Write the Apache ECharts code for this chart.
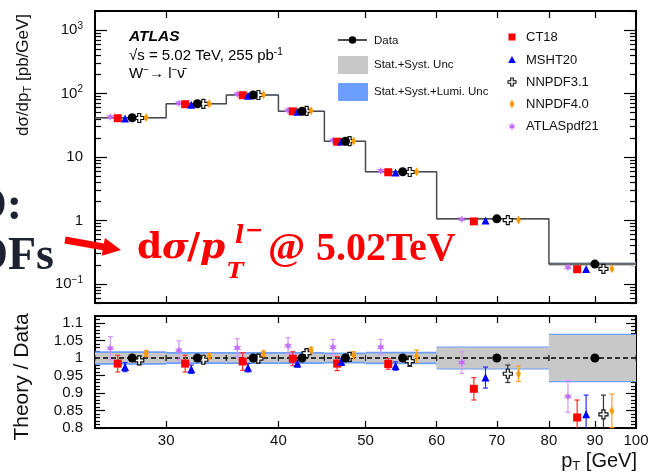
<!DOCTYPE html>
<html>
<head>
<meta charset="utf-8">
<title>W- lepton pT cross section at 5.02 TeV</title>
<script src="https://cdn.jsdelivr.net/npm/echarts@6.0.0/dist/echarts.min.js"></script>
<style>
  html, body { margin: 0; padding: 0; background: #ffffff; }
  #chart { width: 648px; height: 476px; }
</style>
</head>
<body>
<div id="chart"></div>
<script>
// Lepton pT bin edges [GeV]
const binEdges = [25, 30, 35, 40, 45, 50, 60, 80, 100];
// Measured dσ/dpT [pb/GeV]
const dataXsec = [41.5, 69, 95, 52.5, 17.7, 5.85, 1.06, 0.205];
// Relative uncertainties of the measurement
const uncStatSyst = [0.014, 0.012, 0.012, 0.012, 0.011, 0.013, 0.030, 0.066];
const uncStatSystLumi = [0.019, 0.017, 0.017, 0.017, 0.016, 0.018, 0.033, 0.069];

// Theory / Data ratios with PDF uncertainties
const ratioATLASpdf21 = [1.028, 1.022, 1.029, 1.035, 1.031, 1.031, 0.987, 0.890];
const errATLASpdf21   = [0.033, 0.027, 0.026, 0.023, 0.022, 0.022, 0.031, 0.045];
const ratioCT18       = [0.984, 0.984, 0.990, 0.998, 0.984, 0.983, 0.912, 0.830];
const errCT18         = [0.024, 0.024, 0.025, 0.020, 0.020, 0.015, 0.032, 0.050];
const ratioMSHT20     = [0.974, 0.968, 0.972, 0.984, 0.989, 0.977, 0.944, 0.839];
const errMSHT20       = [0.013, 0.012, 0.012, 0.010, 0.010, 0.012, 0.030, 0.055];
const ratioNNPDF31    = [0.993, 0.995, 0.998, 1.014, 1.003, 0.991, 0.955, 0.839];
const errNNPDF31      = [0.012, 0.010, 0.012, 0.010, 0.012, 0.015, 0.025, 0.055];
const ratioNNPDF40    = [1.013, 1.005, 1.012, 1.022, 1.008, 1.005, 0.955, 0.849];
const errNNPDF40      = [0.008, 0.008, 0.008, 0.008, 0.010, 0.018, 0.022, 0.048];

// Axis tick labels
const xTickValues = [30, 40, 50, 60, 70, 80, 90, 100];
const xsecTickValues = [0.1, 1, 10, 100, 1000];
const ratioTickValues = [0.8, 0.85, 0.9, 0.95, 1, 1.05, 1.1];

const SANS = '"Liberation Sans", Arial, Helvetica, sans-serif';
const SERIF = '"Liberation Serif", "Times New Roman", serif';
const MATH = '"DejaVu Serif", serif';

// ---- marker shapes ----
function starPoints(points, rOut, rIn, cx, cy) {
  const pts = [];
  for (let i = 0; i < 2 * points; i++) {
    const r = i % 2 ? rIn : rOut;
    const a = Math.PI * i / points - Math.PI / 2;
    pts.push([cx + r * Math.cos(a), cy + r * Math.sin(a)]);
  }
  return pts;
}
const STAR = 'path://' + starPoints(6, 10, 4.5, 10, 10)
  .map((p, i) => (i ? 'L' : 'M') + p[0].toFixed(2) + ',' + p[1].toFixed(2)).join('') + 'Z';
const OPEN_CROSS = 'path://M3,0H6V3H9V6H6V9H3V6H0V3H3Z';

// Horizontal shift of each prediction inside a bin, as a fraction of the bin width
const models = [
  { name: 'ATLASpdf21', ratio: ratioATLASpdf21, err: errATLASpdf21, shift: -0.3,
    symbol: STAR, size: 8, fill: '#c46cff', stroke: null, bar: '#d493ff' },
  { name: 'CT18', ratio: ratioCT18, err: errCT18, shift: -0.2,
    symbol: 'rect', size: 8, fill: '#ff0000', stroke: null, bar: '#ff2a2a' },
  { name: 'MSHT20', ratio: ratioMSHT20, err: errMSHT20, shift: -0.1,
    symbol: 'triangle', size: 8, fill: '#0000ff', stroke: null, bar: '#2a2aff' },
  { name: 'NNPDF3.1', ratio: ratioNNPDF31, err: errNNPDF31, shift: 0.1,
    symbol: OPEN_CROSS, size: 9, fill: '#ffffff', stroke: '#111111', bar: '#333333' },
  { name: 'NNPDF4.0', ratio: ratioNNPDF40, err: errNNPDF40, shift: 0.2,
    symbol: 'diamond', size: [5, 9], fill: '#ff9a00', stroke: null, bar: '#ffa31a' }
];

const nBins = dataXsec.length;
const binCenter = i => (binEdges[i] + binEdges[i + 1]) / 2;
const binWidth = i => binEdges[i + 1] - binEdges[i];
const shifted = (i, s) => binCenter(i) + s * binWidth(i);

// ---- custom renderers ----
function bandRenderer(fill) {
  return function (params, api) {
    const cs = params.coordSys;
    const p0 = api.coord([api.value(0), api.value(3)]);
    const p1 = api.coord([api.value(1), api.value(2)]);
    const y0 = Math.max(p0[1], cs.y), y1 = Math.min(p1[1], cs.y + cs.height);
    return { type: 'rect', shape: { x: p0[0], y: y0, width: p1[0] - p0[0], height: y1 - y0 },
             style: { fill: fill } };
  };
}
function errorBarRenderer(color) {
  return function (params, api) {
    const cs = params.coordSys;
    const x = api.value(0), v = api.value(1), e = api.value(2);
    const top = api.coord([x, v + e]);
    const bot = api.coord([x, v - e]);
    const yMin = cs.y, yMax = cs.y + cs.height;
    const ya = Math.max(top[1], yMin), yb = Math.min(bot[1], yMax);
    const st = { stroke: color, lineWidth: 1.2 };
    const kids = [{ type: 'line', shape: { x1: top[0], y1: ya, x2: top[0], y2: yb }, style: st }];
    if (top[1] >= yMin) kids.push({ type: 'line', shape: { x1: top[0] - 2.5, y1: top[1], x2: top[0] + 2.5, y2: top[1] }, style: st });
    if (bot[1] <= yMax) kids.push({ type: 'line', shape: { x1: bot[0] - 2.5, y1: bot[1], x2: bot[0] + 2.5, y2: bot[1] }, style: st });
    return { type: 'group', children: kids };
  };
}
function binEdgeTickRenderer(params, api) {
  const a = api.coord([api.value(0), 1]);
  const b = api.coord([api.value(1), 1]);
  const st = { stroke: '#222', lineWidth: 1 };
  return { type: 'group', children: [
    { type: 'line', shape: { x1: a[0], y1: a[1] - 3, x2: a[0], y2: a[1] + 3 }, style: st },
    { type: 'line', shape: { x1: b[0], y1: b[1] - 3, x2: b[0], y2: b[1] + 3 }, style: st }
  ] };
}

// ---- series data ----
const upperBand = (unc) => dataXsec.map((v, i) => [binEdges[i], binEdges[i + 1], v * (1 - unc[i]), v * (1 + unc[i])]);
const lowerBand = (unc) => unc.map((u, i) => [binEdges[i], binEdges[i + 1], 1 - u, 1 + u]);
const stepData = dataXsec.map((v, i) => [binEdges[i], v]).concat([[binEdges[nBins], dataXsec[nBins - 1]]]);

// Minor tick positions
const xsecMinorTicks = [];
for (let p = -2; p <= 3; p++) for (let m = 2; m <= 9; m++) xsecMinorTicks.push(+(m * Math.pow(10, p)).toPrecision(3));
const ratioMinorTicks = [];
for (let k = 80; k <= 112; k++) if (k % 5 !== 0) ratioMinorTicks.push(k / 100);

const series = [];
// Upper panel
series.push({ type: 'custom', xAxisIndex: 0, yAxisIndex: 0, z: 1, silent: true,
  renderItem: bandRenderer('#6c9eff'), data: upperBand(uncStatSystLumi), encode: { x: [0, 1], y: [2, 3] } });
series.push({ type: 'custom', xAxisIndex: 0, yAxisIndex: 0, z: 1, silent: true,
  renderItem: bandRenderer('#c8c8c8'), data: upperBand(uncStatSyst), encode: { x: [0, 1], y: [2, 3] } });
series.push({ type: 'line', xAxisIndex: 0, yAxisIndex: 0, z: 2, step: 'end', symbol: 'none',
  lineStyle: { color: '#4a4a4a', width: 1.5 }, data: stepData });
models.forEach(m => {
  series.push({ type: 'scatter', name: m.name, xAxisIndex: 0, yAxisIndex: 0, z: 4,
    symbol: m.symbol, symbolSize: m.size,
    itemStyle: { color: m.fill, borderColor: m.stroke || m.fill, borderWidth: m.stroke ? 1.2 : 0, opacity: 1 },
    data: dataXsec.map((v, i) => [shifted(i, m.shift), v * m.ratio[i]]) });
});
series.push({ type: 'scatter', name: 'Data', xAxisIndex: 0, yAxisIndex: 0, z: 5,
  symbol: 'circle', symbolSize: 9, itemStyle: { color: '#000', opacity: 1 },
  data: dataXsec.map((v, i) => [binCenter(i), v]) });

// Lower panel
series.push({ type: 'custom', xAxisIndex: 1, yAxisIndex: 4, z: 1, silent: true,
  renderItem: bandRenderer('#6c9eff'), data: lowerBand(uncStatSystLumi), encode: { x: [0, 1], y: [2, 3] } });
series.push({ type: 'custom', xAxisIndex: 1, yAxisIndex: 4, z: 1, silent: true,
  renderItem: bandRenderer('#c8c8c8'), data: lowerBand(uncStatSyst), encode: { x: [0, 1], y: [2, 3] } });
series.push({ type: 'line', xAxisIndex: 1, yAxisIndex: 4, z: 2, symbol: 'none',
  lineStyle: { color: '#000', width: 1.3, type: [5, 3] }, data: [[binEdges[0], 1], [binEdges[nBins], 1]] });
series.push({ type: 'custom', xAxisIndex: 1, yAxisIndex: 4, z: 2, silent: true,
  renderItem: binEdgeTickRenderer, data: dataXsec.map((v, i) => [binEdges[i], binEdges[i + 1]]), encode: { x: [0, 1] } });
models.forEach(m => {
  series.push({ type: 'custom', xAxisIndex: 1, yAxisIndex: 4, z: 3, silent: true,
    renderItem: errorBarRenderer(m.bar),
    data: m.ratio.map((r, i) => [shifted(i, m.shift), r, m.err[i]]), encode: { x: 0, y: 1 } });
  series.push({ type: 'scatter', xAxisIndex: 1, yAxisIndex: 4, z: 4,
    symbol: m.symbol, symbolSize: m.size,
    itemStyle: { color: m.fill, borderColor: m.stroke || m.fill, borderWidth: m.stroke ? 1.2 : 0, opacity: 1 },
    data: m.ratio.map((r, i) => [shifted(i, m.shift), r]) });
});
series.push({ type: 'scatter', xAxisIndex: 1, yAxisIndex: 4, z: 5,
  symbol: 'circle', symbolSize: 9, itemStyle: { color: '#000', opacity: 1 },
  data: dataXsec.map((v, i) => [binCenter(i), 1]) });

// ---- axes ----
const frameLine = { show: true, onZero: false, lineStyle: { color: '#000', width: 2 } };
function xAx(grid, pos, labels) {
  return {
    type: 'log', logBase: 10, gridIndex: grid, position: pos, min: 25, max: 100,
    axisLine: frameLine, splitLine: { show: false },
    axisTick: { show: true, inside: true, length: 7, customValues: xTickValues, lineStyle: { color: '#000', width: 1.2 } },
    axisLabel: labels ? { show: true, customValues: xTickValues, margin: 5, fontFamily: SANS, fontSize: 15, color: '#111',
                          showMinLabel: true, showMaxLabel: true, hideOverlap: false }
                      : { show: false }
  };
}
const supRich = {
  b: { fontFamily: SANS, fontSize: 15, lineHeight: 18, color: '#111' },
  s: { fontFamily: SANS, fontSize: 10, lineHeight: 10, verticalAlign: 'top', color: '#111' }
};
function xsecLabel(v) {
  const p = Math.round(Math.log10(v));
  if (p === 0) return '{b|1}';
  if (p === 1) return '{b|10}';
  return '{b|10}{s|' + (p < 0 ? '\u2212' + (-p) : p) + '}';
}
function yLogAx(pos, ticks, len, labels) {
  return {
    type: 'log', logBase: 10, gridIndex: 0, position: pos, min: 0.05, max: 2000,
    axisLine: frameLine, splitLine: { show: false },
    axisTick: { show: true, inside: true, length: len, customValues: ticks, lineStyle: { color: '#000', width: 1.2 } },
    axisLabel: labels ? { show: true, customValues: ticks, margin: 12, formatter: xsecLabel, rich: supRich }
                      : { show: false }
  };
}
function yRatioAx(pos, ticks, len, labels) {
  return {
    type: 'value', gridIndex: 1, position: pos, min: 0.8, max: 1.12,
    axisLine: frameLine, splitLine: { show: false },
    axisTick: { show: true, inside: true, length: len, customValues: ticks, lineStyle: { color: '#000', width: 1.2 } },
    axisLabel: labels ? { show: true, customValues: ticks, margin: 12, fontFamily: SANS, fontSize: 15, color: '#111',
                          formatter: v => String(+v.toFixed(2)) }
                      : { show: false }
  };
}

// ---- legend and text overlays ----
const legendText = (t, x, y, size) => ({ type: 'text', x: x, y: y, z: 20,
  style: { text: t, fontFamily: SANS, fontSize: size, fill: '#111', verticalAlign: 'middle', align: 'left' } });
const lx = 512;
const legendRows = [37, 60, 82, 104, 126.5];
const crossPts = (cx, cy) => [[-1.3, -4], [1.3, -4], [1.3, -1.3], [4, -1.3], [4, 1.3], [1.3, 1.3], [1.3, 4], [-1.3, 4],
  [-1.3, 1.3], [-4, 1.3], [-4, -1.3], [-1.3, -1.3]].map(p => [cx + p[0], cy + p[1]]);
const redText = (t, x, y, size, italic, family) => ({ type: 'text', x: x, y: y, z: 30,
  style: { text: t, fontFamily: family || MATH, fontSize: size, fontWeight: 'bold', fontStyle: italic ? 'italic' : 'normal',
           fill: '#ff0000', verticalAlign: 'middle', align: 'left' } });
const graphic = [
  // Left legend column
  { type: 'line', z: 20, shape: { x1: 338, y1: 40, x2: 367, y2: 40 }, style: { stroke: '#000', lineWidth: 1.4 } },
  { type: 'circle', z: 20, shape: { cx: 352.5, cy: 40, r: 3.8 }, style: { fill: '#000' } },
  legendText('Data', 374, 40.5, 11.5),
  { type: 'rect', z: 20, shape: { x: 338, y: 56, width: 30, height: 18 }, style: { fill: '#c8c8c8' } },
  legendText('Stat.+Syst. Unc', 374, 65, 11.5),
  { type: 'rect', z: 20, shape: { x: 338, y: 83, width: 30, height: 18 }, style: { fill: '#6c9eff' } },
  legendText('Stat.+Syst.+Lumi. Unc', 374, 92, 11.5),
  // Right legend column
  { type: 'rect', z: 20, shape: { x: lx - 3.5, y: legendRows[0] - 3.5, width: 7, height: 7 }, style: { fill: '#ff0000' } },
  legendText('CT18', 526, legendRows[0], 13),
  { type: 'polygon', z: 20, shape: { points: [[lx, legendRows[1] - 4], [lx + 3.8, legendRows[1] + 3], [lx - 3.8, legendRows[1] + 3]] }, style: { fill: '#0000ff' } },
  legendText('MSHT20', 526, legendRows[1], 13),
  { type: 'polygon', z: 20, shape: { points: crossPts(lx, legendRows[2]) }, style: { fill: '#fff', stroke: '#111', lineWidth: 1.1 } },
  legendText('NNPDF3.1', 526, legendRows[2], 13),
  { type: 'polygon', z: 20, shape: { points: [[lx, legendRows[3] - 4.5], [lx + 2.5, legendRows[3]], [lx, legendRows[3] + 4.5], [lx - 2.5, legendRows[3]]] }, style: { fill: '#ff9a00' } },
  legendText('NNPDF4.0', 526, legendRows[3], 13),
  { type: 'polygon', z: 20, shape: { points: starPoints(6, 4, 1.8, lx, legendRows[4]) }, style: { fill: '#c46cff' } },
  legendText('ATLASpdf21', 526, legendRows[4], 13),

  // Experiment label
  { type: 'text', x: 129, y: 36.5, z: 20, style: { text: 'ATLAS', fontFamily: SANS, fontSize: 15.5, fontWeight: 'bold', fontStyle: 'italic', fill: '#000', verticalAlign: 'middle' } },
  { type: 'text', x: 129, y: 56, z: 20, style: { text: '{b|\u221As = 5.02 TeV, 255 pb}{s|-1}', verticalAlign: 'middle',
    rich: { b: { fontFamily: SANS, fontSize: 15, lineHeight: 18, fill: '#000' }, s: { fontFamily: SANS, fontSize: 10, lineHeight: 10, verticalAlign: 'top', fill: '#000' } } } },
  { type: 'text', x: 129, y: 74, z: 20, style: { text: '{b|W}{s|\u2212}{b|\u2192 l}{s|\u2212}{b|\u03BD\u0304}', verticalAlign: 'middle',
    rich: { b: { fontFamily: SANS, fontSize: 15, lineHeight: 18, fill: '#000' }, s: { fontFamily: SANS, fontSize: 10, lineHeight: 10, verticalAlign: 'top', fill: '#000' } } } },

  // Axis titles
  { type: 'text', x: 23, y: 75, rotation: Math.PI / 2, z: 20, style: { text: '{b|d\u03C3/dp}{t|T}{b| [pb/GeV]}', align: 'center', verticalAlign: 'middle',
    rich: { b: { fontFamily: SANS, fontSize: 17, lineHeight: 20, fill: '#111' }, t: { fontFamily: SANS, fontSize: 11, lineHeight: 11, verticalAlign: 'bottom', fill: '#111' } } } },
  { type: 'text', x: 22, y: 377, rotation: Math.PI / 2, z: 20, style: { text: 'Theory / Data', fontFamily: SANS, fontSize: 21, fill: '#111', align: 'center', verticalAlign: 'middle' } },
  { type: 'text', x: 637, y: 461, z: 20, style: { text: '{b|p}{t|T}{b| [GeV]}', align: 'right', verticalAlign: 'middle',
    rich: { b: { fontFamily: SANS, fontSize: 20, lineHeight: 24, fill: '#111' }, t: { fontFamily: SANS, fontSize: 13, lineHeight: 13, verticalAlign: 'bottom', fill: '#111' } } } },

  // Slide annotation: partial black text on the left
  { type: 'text', x: 22, y: 207, z: 30, style: { text: 'O:', fontFamily: SERIF, fontSize: 46, fontWeight: 'bold', fill: '#1e2230', align: 'right', verticalAlign: 'middle' } },
  { type: 'text', x: 54, y: 257, z: 30, style: { text: 'DFs', fontFamily: SERIF, fontSize: 46, fontWeight: 'bold', fill: '#1e2230', align: 'right', verticalAlign: 'middle' } },
  // Red arrow
  { type: 'polygon', z: 30, shape: { points: [[65.6, 236.6], [103.9, 243.4], [104.9, 237.9], [121, 250], [101.7, 255.7], [102.7, 250.2], [64.4, 243.4]] }, style: { fill: '#ff0000' } },
  // Red formula  dσ/p_T^{l−} @ 5.02TeV
  redText('d', 137, 249, 36, false),
  redText('\u03C3', 162, 249, 36, true),
  redText('/', 187, 249, 36, false),
  redText('p', 200, 249, 36, true),
  redText('l', 235, 237, 24, true),
  redText('\u2212', 245, 231, 22, false),
  redText('T', 227, 272, 22, true),
  redText('@', 268, 250, 40, false, SERIF),
  redText('5.02TeV', 316, 250, 40, false, SERIF)
];

const chart = echarts.init(document.getElementById('chart'), null, { renderer: 'canvas' });
chart.setOption({
  animation: false,
  backgroundColor: '#ffffff',
  grid: [
    { left: 95, top: 11, width: 541, height: 292, containLabel: false, outerBoundsMode: 'none' },
    { left: 95, top: 316, width: 541, height: 112, containLabel: false, outerBoundsMode: 'none' }
  ],
  xAxis: [xAx(0, 'bottom', false), xAx(1, 'bottom', true), xAx(0, 'top', false), xAx(1, 'top', false)],
  yAxis: [
    yLogAx('left', xsecTickValues, 12, true),
    yLogAx('left', xsecMinorTicks, 6, false),
    yLogAx('right', xsecTickValues, 12, false),
    yLogAx('right', xsecMinorTicks, 6, false),
    yRatioAx('left', ratioTickValues, 10, true),
    yRatioAx('left', ratioMinorTicks, 5, false),
    yRatioAx('right', ratioTickValues, 10, false),
    yRatioAx('right', ratioMinorTicks, 5, false)
  ],
  series: series,
  graphic: graphic
});
</script>
</body>
</html>
